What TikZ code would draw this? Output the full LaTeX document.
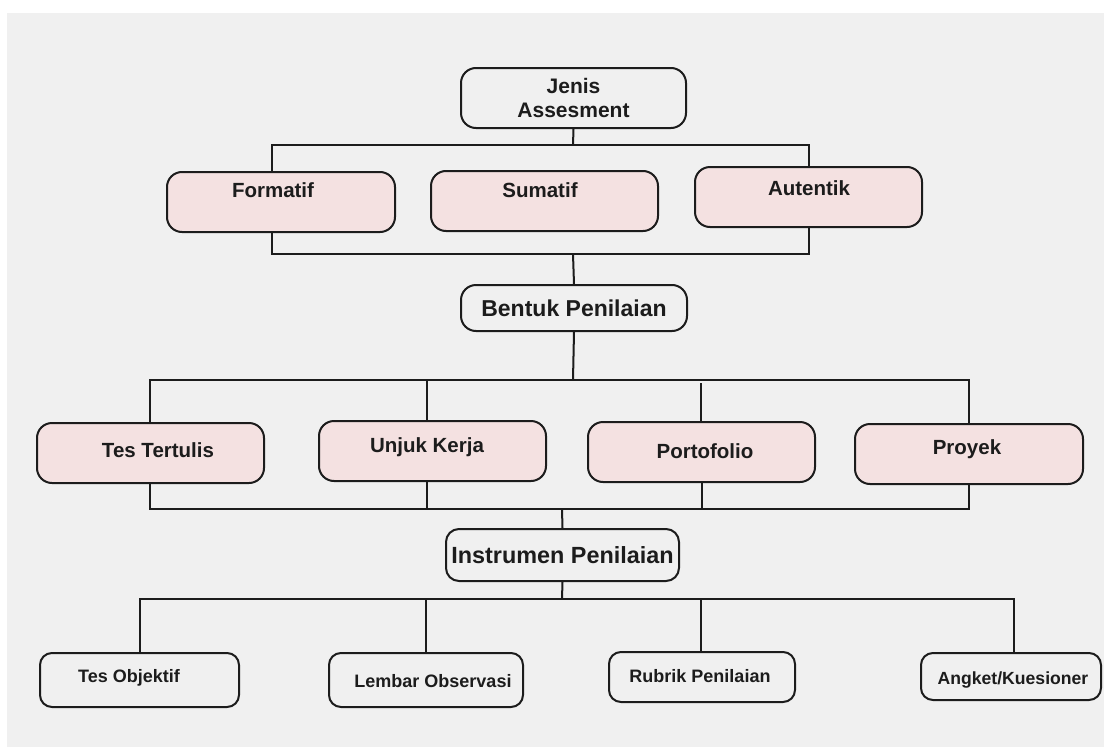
\documentclass[tikz,border=0pt]{standalone}
\usepackage{fontspec}
\setmainfont{Liberation Sans}
\definecolor{bg}{HTML}{F0F0F0}
\definecolor{pinkfill}{HTML}{F4E1E1}
\definecolor{ink}{HTML}{1C1C1C}
\begin{document}
\begin{tikzpicture}[x=1pt,y=-1pt,
  box/.style={draw=ink,line width=2pt,rounded corners=15pt,inner sep=0pt,
    minimum width=#1,align=center,text=ink,font=\bfseries\fontsize{20.5}{24}\selectfont},
  pbox/.style={box=#1,fill=pinkfill},
  sbox/.style={box=#1,rounded corners=12pt,font=\bfseries\fontsize{18}{22}\selectfont},
  txt/.style={inner sep=0pt,text=ink,font=\bfseries\fontsize{20.5}{24}\selectfont},
  stxt/.style={inner sep=0pt,text=ink,font=\bfseries\fontsize{18}{22}\selectfont},
  conn/.style={draw=ink,line width=2pt,line join=miter}]
\useasboundingbox (0,0) rectangle (1104,747);
\fill[white] (0,0) rectangle (1104,747);
\fill[bg] (7,13) rectangle (1104,747);

% level 1
\node[box=225pt,minimum height=60pt,font=\bfseries\fontsize{21}{24}\selectfont] (jenis) at (573.5,98) {Jenis\\Assesment};

% level 2
\node[pbox=228pt,minimum height=60pt] (formatif) at (281,202) {};
\node[txt] (tformatif) at (273,190) {Formatif};
\node[pbox=227pt,minimum height=60pt] (sumatif) at (544.5,201) {};
\node[txt] (tsumatif) at (540,190) {Sumatif};
\node[pbox=227pt,minimum height=60pt] (autentik) at (808.5,197) {};
\node[txt] (tautentik) at (809,188) {Autentik};

% level 3
\node[box=226pt,minimum height=46pt,font=\bfseries\fontsize{23}{26}\selectfont] (bentuk) at (574,308) {Bentuk Penilaian};

% level 4
\node[pbox=227pt,minimum height=60pt] (tertulis) at (150.5,453) {};
\node[txt] (ttertulis) at (158,450) {Tes Tertulis};
\node[pbox=227pt,minimum height=60pt] (unjuk) at (432.5,451) {};
\node[txt] (tunjuk) at (427,447) {Unjuk Kerja};
\node[pbox=227pt,minimum height=60pt] (porto) at (701.5,452) {};
\node[txt] (tporto) at (705,451) {Portofolio};
\node[pbox=228pt,minimum height=60pt] (proyek) at (969,454) {};
\node[txt] (tproyek) at (967,449) {Proyek};

% level 5
\node[box=233pt,minimum height=52pt,rounded corners=13pt,font=\bfseries\fontsize{23.4}{26}\selectfont] (instrumen) at (562.5,555) {Instrumen Penilaian};

% level 6
\node[sbox=199pt,minimum height=54pt] (tesobj) at (139.5,680) {};
\node[stxt] (ttesobj) at (129,678) {Tes Objektif};
\node[sbox=194pt,minimum height=54pt] (lembar) at (426,680) {};
\node[stxt] (tlembar) at (433,681) {Lembar Observasi};
\node[sbox=186pt,minimum height=50pt] (rubrik) at (702,677) {};
\node[stxt] (trubrik) at (700,676) {Rubrik Penilaian};
\node[sbox=180pt,minimum height=47pt] (angket) at (1011,676.5) {};
\node[stxt,font=\bfseries\fontsize{17.6}{22}\selectfont] (tangket) at (1013,680) {Angket/Kuesioner};

% connector levels
\coordinate (h1) at (573,145);
\coordinate (h2) at (573,254);
\coordinate (h3) at (573,380);
\coordinate (h4) at (562,509);
\coordinate (h5) at (562,599);

% jenis -> formatif / autentik
\draw[conn] (jenis.south) -- (h1);
\draw[conn] ([xshift=-9pt]formatif.north) -- ([xshift=-9pt]formatif.north |- h1) -- (autentik.north |- h1) -- (autentik.north);
% formatif / autentik -> bentuk
\draw[conn] ([xshift=-9pt]formatif.south) -- ([xshift=-9pt]formatif.south |- h2) -- (autentik.south |- h2) -- (autentik.south);
\draw[conn] (h2) -- (bentuk.north);
% bentuk -> level 4
\draw[conn] (bentuk.south) -- (h3);
\draw[conn] ([xshift=-1pt]tertulis.north) -- ([xshift=-1pt]tertulis.north |- h3) -- (proyek.north |- h3) -- (proyek.north);
\draw[conn] ([xshift=-6pt]unjuk.north) -- ([xshift=-6pt]unjuk.north |- h3);
\draw[conn] ([xshift=-0.5pt]porto.north) -- ([xshift=-0.5pt,yshift=-3pt]porto.north |- h3);
% level 4 -> instrumen
\draw[conn] ([xshift=-1pt]tertulis.south) -- ([xshift=-1pt]tertulis.south |- h4) -- (proyek.south |- h4) -- (proyek.south);
\draw[conn] ([xshift=-6pt]unjuk.south) -- ([xshift=-6pt]unjuk.south |- h4);
\draw[conn] ([xshift=0.5pt]porto.south) -- ([xshift=0.5pt]porto.south |- h4);
\draw[conn] (h4) -- (instrumen.north);
% instrumen -> level 6
\draw[conn] (instrumen.south) -- (h5);
\draw[conn] (tesobj.north) -- (tesobj.north |- h5) -- ([xshift=3pt]angket.north |- h5) -- ([xshift=3pt]angket.north);
\draw[conn] (lembar.north) -- (lembar.north |- h5);
\draw[conn] ([xshift=-1pt]rubrik.north) -- ([xshift=-1pt]rubrik.north |- h5);
\end{tikzpicture}
\end{document}
